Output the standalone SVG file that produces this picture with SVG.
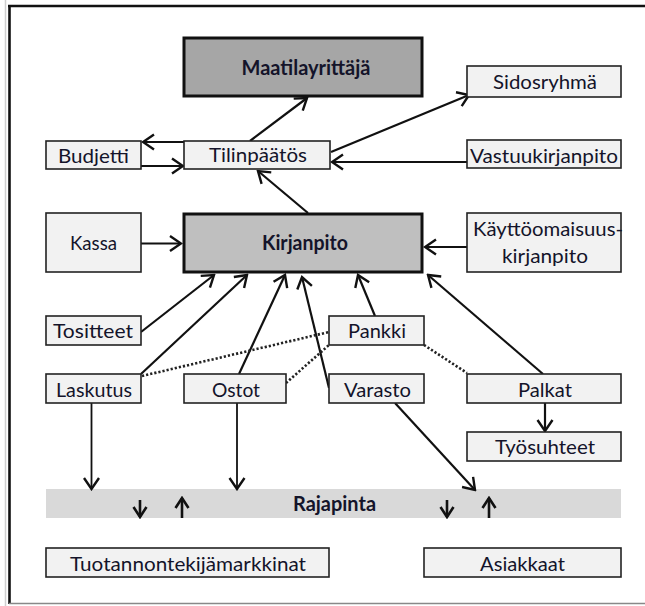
<svg xmlns="http://www.w3.org/2000/svg" width="645" height="606" viewBox="0 0 645 606">
<defs>
<marker id="ah" viewBox="-13 -9 15 18" refX="0" refY="0" markerWidth="15" markerHeight="18" markerUnits="userSpaceOnUse" orient="auto">
<path d="M-11,-7.5 L0,0 L-11,7.5" fill="none" stroke="#111" stroke-width="2.4" stroke-linejoin="miter"/>
</marker>
<marker id="ahs" viewBox="-13 -9 15 18" refX="0" refY="0" markerWidth="15" markerHeight="18" markerUnits="userSpaceOnUse" orient="auto">
<path d="M-10,-6.5 L0,0 L-10,6.5" fill="none" stroke="#111" stroke-width="2.6" stroke-linejoin="miter"/>
</marker>
<style>
.box{fill:#f2f2f2;stroke:#222;stroke-width:1.6}
.main{stroke:#111;stroke-width:3}
.t{font-family:Lato,"Open Sans",sans-serif;font-size:20px;fill:#14142a;text-anchor:middle}
.b{font-weight:bold}
.c{stroke:#111;stroke-width:2.2;fill:none;marker-end:url(#ah)}
.thin{stroke-width:1.8}
.s{stroke:#111;stroke-width:2.6;fill:none;marker-end:url(#ahs)}
.d{stroke:#222;stroke-width:2.6;stroke-dasharray:2.2 2;fill:none}
</style>
</defs>
<rect width="645" height="606" fill="#ffffff"/>
<g id="frame">
<line x1="5.5" y1="0" x2="5.5" y2="606" stroke="#cfcfcf" stroke-width="1.5"/>
<line x1="8" y1="6" x2="645" y2="6" stroke="#111" stroke-width="2.6"/>
<line x1="9.5" y1="5" x2="9.5" y2="604" stroke="#111" stroke-width="2.6"/>
<line x1="9" y1="603.5" x2="645" y2="603.5" stroke="#888" stroke-width="1.5"/>
</g>
<g id="rajapinta"><rect x="46" y="489" width="575" height="29" fill="#d9d9d9"/><text class="t b" x="334.5" y="511" textLength="83" lengthAdjust="spacingAndGlyphs">Rajapinta</text></g>
<g id="connectors">
<line class="c" x1="250" y1="141" x2="307" y2="98"/>
<line class="c" x1="331" y1="152" x2="469" y2="95"/>
<line class="c" x1="184" y1="142" x2="143" y2="142"/>
<line class="c" x1="141" y1="166" x2="183" y2="166"/>
<line class="c" x1="467" y1="162" x2="332" y2="162"/>
<line class="c" x1="308" y1="213" x2="258" y2="171"/>
<line class="c" x1="141" y1="243.5" x2="181" y2="243.5"/>
<line class="c" x1="467" y1="247" x2="425" y2="247"/>
<line class="c" x1="141" y1="332" x2="214" y2="275"/>
<line class="c" x1="141" y1="374" x2="247" y2="275"/>
<line class="c" x1="239" y1="374" x2="285" y2="275"/>
<line class="c" x1="329" y1="388" x2="302" y2="277"/>
<line class="c" x1="375" y1="316" x2="358" y2="275"/>
<line class="c" x1="543" y1="374" x2="428" y2="275"/>
<line class="c" x1="545" y1="403" x2="545" y2="431"/>
<line class="c thin" x1="91.5" y1="403" x2="91.5" y2="489"/>
<line class="c thin" x1="237" y1="403" x2="237" y2="489"/>
<line class="c" x1="395" y1="403" x2="475" y2="490"/>
<line class="s" x1="140" y1="500" x2="140" y2="517"/>
<line class="s" x1="182" y1="518" x2="182" y2="498"/>
<line class="s" x1="447" y1="500" x2="447" y2="517"/>
<line class="s" x1="489" y1="518" x2="489" y2="498"/>
<line class="d" x1="142" y1="376" x2="329" y2="332"/>
<line class="d" x1="286" y1="383" x2="329" y2="345"/>
<line class="d" x1="424" y1="345" x2="467" y2="373"/>
</g>
<g id="maatilayrittaja"><rect class="main" x="184" y="38" width="238" height="58" fill="#a6a6a6"/><text class="t b" x="306" y="75" textLength="129" lengthAdjust="spacingAndGlyphs">Maatilayrittäjä</text></g>
<g id="sidosryhma"><rect class="box" x="467" y="66" width="154" height="31"/><text class="t" x="545" y="89" textLength="104" lengthAdjust="spacingAndGlyphs">Sidosryhmä</text></g>
<g id="budjetti"><rect class="box" x="46" y="141" width="95" height="28"/><text class="t" x="93.5" y="163" textLength="71" lengthAdjust="spacingAndGlyphs">Budjetti</text></g>
<g id="tilinpaatos"><rect class="box" x="184" y="141" width="146" height="28"/><text class="t" x="258" y="162" textLength="98" lengthAdjust="spacingAndGlyphs">Tilinpäätös</text></g>
<g id="vastuukirjanpito"><rect class="box" x="467" y="140" width="154" height="28"/><text class="t" x="544" y="163" textLength="148" lengthAdjust="spacingAndGlyphs">Vastuukirjanpito</text></g>
<g id="kassa"><rect class="box" x="46" y="213" width="95" height="59"/><text class="t" x="93.5" y="250" textLength="47" lengthAdjust="spacingAndGlyphs">Kassa</text></g>
<g id="kirjanpito"><rect class="main" x="184" y="214" width="238" height="58" fill="#bfbfbf"/><text class="t b" x="305" y="250" textLength="86" lengthAdjust="spacingAndGlyphs">Kirjanpito</text></g>
<g id="kayttoomaisuuskirjanpito"><rect class="box" x="467" y="213" width="154" height="59"/><text class="t" x="548" y="236" textLength="150" lengthAdjust="spacingAndGlyphs">Käyttöomaisuus-</text><text class="t" x="545" y="263" textLength="86" lengthAdjust="spacingAndGlyphs">kirjanpito</text></g>
<g id="tositteet"><rect class="box" x="46" y="316" width="95" height="29"/><text class="t" x="93" y="338" textLength="80" lengthAdjust="spacingAndGlyphs">Tositteet</text></g>
<g id="pankki"><rect class="box" x="329" y="316" width="95" height="29"/><text class="t" x="377" y="338" textLength="58" lengthAdjust="spacingAndGlyphs">Pankki</text></g>
<g id="laskutus"><rect class="box" x="46" y="374" width="95" height="29"/><text class="t" x="94" y="397" textLength="76" lengthAdjust="spacingAndGlyphs">Laskutus</text></g>
<g id="ostot"><rect class="box" x="184" y="374" width="102" height="29"/><text class="t" x="236" y="397" textLength="48" lengthAdjust="spacingAndGlyphs">Ostot</text></g>
<g id="varasto"><rect class="box" x="329" y="374" width="95" height="29"/><text class="t" x="377.5" y="397" textLength="67" lengthAdjust="spacingAndGlyphs">Varasto</text></g>
<g id="palkat"><rect class="box" x="467" y="374" width="154" height="29"/><text class="t" x="545" y="397" textLength="54" lengthAdjust="spacingAndGlyphs">Palkat</text></g>
<g id="tyosuhteet"><rect class="box" x="467" y="432" width="154" height="29"/><text class="t" x="545" y="454" textLength="100" lengthAdjust="spacingAndGlyphs">Työsuhteet</text></g>
<g id="tuotannontekijamarkkinat"><rect class="box" x="46" y="548" width="283" height="29"/><text class="t" x="188" y="571" textLength="236" lengthAdjust="spacingAndGlyphs">Tuotannontekijämarkkinat</text></g>
<g id="asiakkaat"><rect class="box" x="424" y="548" width="197" height="29"/><text class="t" x="522.5" y="571" textLength="85" lengthAdjust="spacingAndGlyphs">Asiakkaat</text></g>
</svg>
